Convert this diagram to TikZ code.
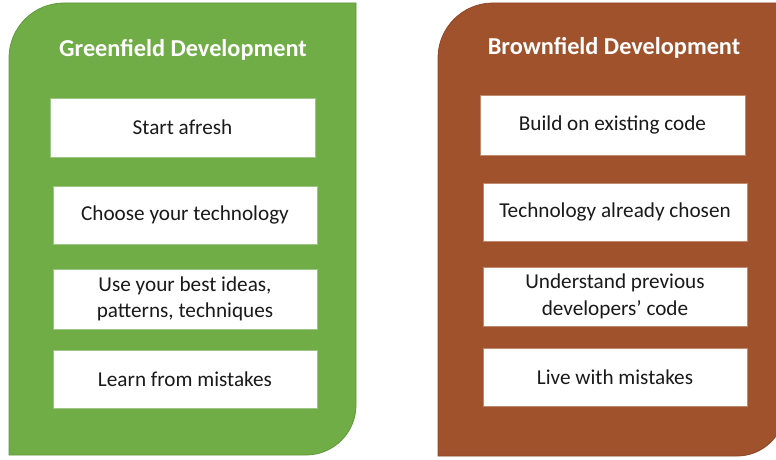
\documentclass[tikz,border=0pt]{standalone}
\usepackage{fontspec}
\setmainfont{Carlito}
\definecolor{gfill}{HTML}{70AD47}
\definecolor{gline}{HTML}{5E9A3A}
\definecolor{bfill}{HTML}{A0522D}
\definecolor{bline}{HTML}{8E4626}
\definecolor{txt}{HTML}{1A1A1A}
\definecolor{gbox}{HTML}{9CC585}
\definecolor{bbox}{HTML}{C08A6E}
\tikzset{
  item/.style={rectangle, fill=white, line width=0.8pt, inner sep=0pt,
    minimum width=264pt, minimum height=58pt, align=center, text=txt,
    font=\fontsize{21.2}{26.5}\selectfont},
  gitem/.style={item, draw=gbox},
  bitem/.style={item, draw=bbox},
  ptitle/.style={text=white, font=\fontsize{24.3}{29}\selectfont\bfseries, inner sep=0pt}
}
\begin{document}
\begin{tikzpicture}[x=1pt,y=1pt]
\useasboundingbox (0,0) rectangle (776,459);
\clip (0,0) rectangle (776,459);
% green panel
\draw[fill=gfill, draw=gline, line width=0.8pt]
  (9,4) -- (9,456-55) arc[start angle=180, end angle=90, radius=55]
  -- (356,456) -- (356,4+50) arc[start angle=0, end angle=-90, radius=50] -- cycle;
% brown panel
\draw[fill=bfill, draw=bline, line width=0.8pt]
  (438,3) -- (438,456-55) arc[start angle=180, end angle=90, radius=55]
  -- (785,456) -- (785,3+48) arc[start angle=0, end angle=-90, radius=48] -- cycle;

\node[ptitle] (gt) at (183,409) {Greenfield Development};
\node[gitem, minimum width=265pt, minimum height=59pt] (g1) at (182.5,331.5) {Start afresh};
\node[gitem] (g2) at (185,244) {Choose your technology};
\node[gitem, minimum height=60pt] (g3) at (185,160) {Use your best ideas,\\patterns, techniques};
\node[gitem] (g4) at (185,80) {Learn from mistakes};

\node[ptitle] (bt) at (614,411) {Brownfield Development};
\node[bitem, minimum width=265pt, minimum height=60pt] (b1) at (612.5,334) {Build on existing code};
\node[bitem] (b2) at (615,247) {Technology already chosen};
\node[bitem, minimum height=59pt] (b3) at (615,162.5) {Understand previous\\developers’ code};
\node[bitem] (b4) at (615,82) {Live with mistakes};
\end{tikzpicture}
\end{document}
